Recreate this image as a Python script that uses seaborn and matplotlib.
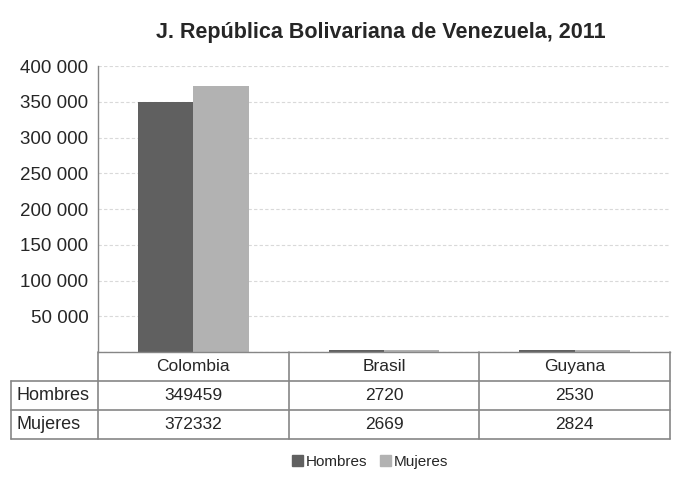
import pandas as pd
import seaborn as sns
import matplotlib.pyplot as plt
from matplotlib.lines import Line2D
from matplotlib.transforms import blended_transform_factory

# Chart data
countries = ["Colombia", "Brasil", "Guyana"]
hombres = [349459, 2720, 2530]
mujeres = [372332, 2669, 2824]
series = ["Hombres", "Mujeres"]
colors = {"Hombres": "#606060", "Mujeres": "#b2b2b2"}
yticks = [0, 50000, 100000, 150000, 200000, 250000, 300000, 350000, 400000]

df = pd.DataFrame({
    "pais": countries * 2,
    "sexo": ["Hombres"] * 3 + ["Mujeres"] * 3,
    "valor": hombres + mujeres,
})

sns.set_style("white")
plt.rcParams["font.family"] = ["Liberation Sans", "DejaVu Sans"]

fig = plt.figure(figsize=(6.73, 4.95), dpi=100)
ax = fig.add_axes([98 / 673, 1 - 352 / 495, 572 / 673, 286 / 495])

sns.barplot(data=df, x="pais", y="valor", hue="sexo", order=countries,
            hue_order=series, palette=colors, width=0.58, saturation=1,
            edgecolor="none", linewidth=0, ax=ax, legend=False)

ax.set_xlim(-0.5, 2.5)
ax.set_ylim(0, 400000)
ax.set_yticks(yticks)
ax.set_yticklabels([""] + [f"{v:,}".replace(",", " ") for v in yticks[1:]],
                   fontsize=13.5)
ax.set_xticks([])
ax.set_xlabel("")
ax.set_ylabel("")
ax.yaxis.grid(True, color="#d9d9d9", linestyle=(0, (3, 2)), linewidth=0.8)
ax.set_axisbelow(True)
ax.tick_params(axis="y", direction="out", length=4, width=1, color="#868686",
               pad=3)
for side in ["top", "right"]:
    ax.spines[side].set_visible(False)
for side in ["left", "bottom"]:
    ax.spines[side].set_color("#868686")
    ax.spines[side].set_linewidth(1)

# data table under the axis
trans = blended_transform_factory(ax.transData, ax.transAxes)
row_h = 29 / 286
cat_px = 572 / 3
label_left = -0.5 - 87 / cat_px
gray = "#868686"
lw = 1.2
# horizontal lines
for i in range(1, 4):
    y = -row_h * i
    ax.add_line(Line2D([label_left, 2.5], [y, y], transform=trans, color=gray,
                       lw=lw, clip_on=False))
# vertical lines
for x in [-0.5, 0.5, 1.5, 2.5]:
    ax.add_line(Line2D([x, x], [0, -3 * row_h], transform=trans, color=gray,
                       lw=lw, clip_on=False))
ax.add_line(Line2D([label_left, label_left], [-row_h, -3 * row_h],
                   transform=trans, color=gray, lw=lw, clip_on=False))
# header texts
for i, c in enumerate(countries):
    ax.text(i, -row_h * 0.5, c, transform=trans, ha="center", va="center",
            fontsize=12.5)
for r, (name, vals) in enumerate([("Hombres", hombres), ("Mujeres", mujeres)],
                                 start=1):
    yc = -row_h * (r + 0.5)
    ax.text(label_left + 5 / cat_px, yc, name, transform=trans, ha="left",
            va="center", fontsize=13)
    for i, v in enumerate(vals):
        ax.text(i, yc, str(v), transform=trans, ha="center", va="center",
                fontsize=12.5)

fig.text(0.566, 0.935, "J. República Bolivariana de Venezuela, 2011",
         ha="center", va="center", fontsize=15.5, fontweight="bold")

handles = [plt.Rectangle((0, 0), 1, 1, color=colors[s]) for s in series]
fig.legend(handles, series, loc="center", bbox_to_anchor=(0.55, 0.067),
           ncol=2, frameon=False, fontsize=11, handlelength=0.7,
           handleheight=0.7, handletextpad=0.2, columnspacing=0.8)

fig.savefig("out.png", dpi=100)
